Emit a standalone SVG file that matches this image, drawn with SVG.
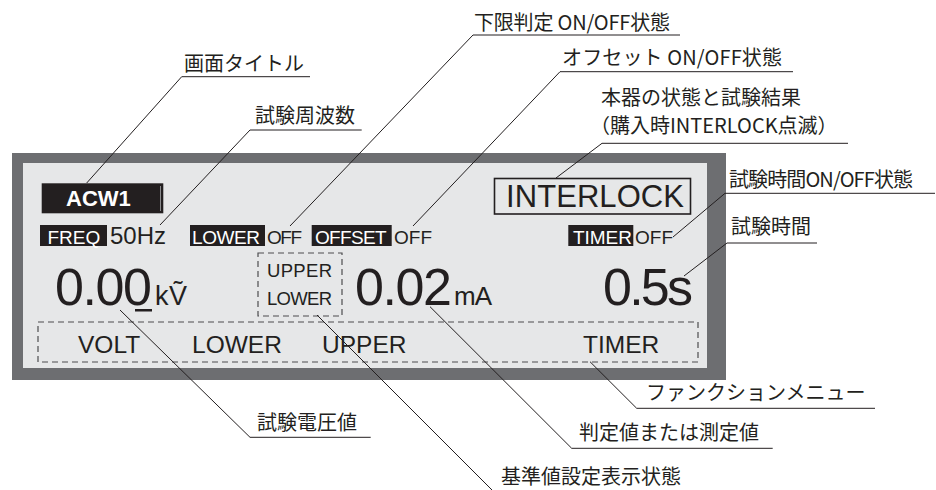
<svg xmlns="http://www.w3.org/2000/svg" width="936" height="490" viewBox="0 0 936 490">
<style>
.frame{fill:#6d6e71}
.panel{fill:#e6e7e8}
.inv{fill:#231f20}
.lcd{font-family:"Liberation Sans",Arial,"DejaVu Sans",sans-serif;fill:#231f20}
.invt{font-family:"Liberation Sans",Arial,sans-serif;fill:#ffffff;font-size:19px}
.sm{font-size:19px}
.big{font-size:52px}
.menu{font-size:24.5px}
.dash{fill:none;stroke:#4d4d4f;stroke-width:1.2;stroke-dasharray:6 4}
.lead{fill:none;stroke:#231f20;stroke-width:1}
.lbl{font-family:"Noto Sans CJK JP","Liberation Sans",sans-serif;font-size:20px;fill:#231f20}
</style>
<rect width="936" height="490" fill="#ffffff"/>
<g id="display">
<rect class="frame" x="12" y="153" width="714" height="227"/>
<rect class="panel" x="23" y="163" width="684" height="205"/>
</g>
<g id="title">
<rect class="inv" x="41.7" y="183.3" width="121.6" height="30"/>
<line x1="160.5" y1="186" x2="160.5" y2="211" stroke="#8a8a8c" stroke-width="1"/>
<text x="66" y="205.5" font-family="Liberation Sans,Arial,sans-serif" font-weight="bold" font-size="22" fill="#ffffff">ACW1</text>
</g>
<g id="freq">
<rect class="inv" x="40" y="225" width="67" height="21"/>
<text class="invt" x="47.5" y="243.5">FREQ</text>
<text class="lcd" x="110" y="243.5" font-size="24">50Hz</text>
</g>
<g id="lower-judge">
<rect class="inv" x="190" y="225" width="75" height="21"/>
<text class="invt" x="192" y="243.5" textLength="68">LOWER</text>
<text class="lcd sm" x="267" y="243.5" textLength="35">OFF</text>
</g>
<g id="offset">
<rect class="inv" x="311.7" y="225" width="80" height="21"/>
<text class="invt" x="315" y="243.5" textLength="71.7">OFFSET</text>
<text class="lcd sm" x="394" y="243.5">OFF</text>
</g>
<g id="status">
<rect x="494.5" y="178.5" width="196" height="35.5" fill="none" stroke="#231f20" stroke-width="1.6"/>
<text class="lcd" x="506" y="207.3" font-size="31" textLength="178">INTERLOCK</text>
</g>
<g id="timer-state">
<rect class="inv" x="568.3" y="225" width="65" height="21"/>
<text class="invt" x="573" y="243.5" textLength="59">TIMER</text>
<text class="lcd sm" x="635" y="243.5">OFF</text>
</g>
<g id="voltage">
<text class="lcd big" x="55" y="305" textLength="97">0.00</text>
<rect class="inv" x="135" y="309" width="17" height="2.5"/>
<text class="lcd" x="155" y="305" font-size="27" textLength="32">kṼ</text>
</g>
<g id="ref-state">
<rect class="dash" x="258" y="253" width="84" height="63"/>
<text class="lcd" x="267" y="277" font-size="18.5" textLength="65">UPPER</text>
<text class="lcd" x="267" y="305" font-size="18.5" textLength="65">LOWER</text>
</g>
<g id="current">
<text class="lcd big" x="355" y="305" textLength="97">0.02</text>
<text class="lcd" x="454" y="305" font-size="26" textLength="38">mA</text>
</g>
<g id="time">
<text class="lcd big" x="603" y="305" textLength="90">0.5s</text>
</g>
<g id="menu">
<rect class="dash" x="38" y="322" width="660" height="40"/>
<text class="lcd menu" x="78" y="353">VOLT</text>
<text class="lcd menu" x="192" y="353">LOWER</text>
<text class="lcd menu" x="322" y="353">UPPER</text>
<text class="lcd menu" x="583" y="353">TIMER</text>
</g>
<g id="connectors">
<polyline class="lead" points="86.7,183 181.7,76.7 310,76.7"/>
<polyline class="lead" points="160,225 250,130 361.7,130"/>
<polyline class="lead" points="290,226 473,35 680,35"/>
<polyline class="lead" points="413,226 560,71.7 793,71.7"/>
<polyline class="lead" points="556,178 602,143.3 848,143.3"/>
<polyline class="lead" points="673,237 725,193.3 935,193.3"/>
<polyline class="lead" points="684,276 727,243 817,243"/>
<polyline class="lead" points="120,310 250,437.3 370.7,437.3"/>
<polyline class="lead" points="317,315 492,490"/>
<polyline class="lead" points="430,306.7 571.7,448.3 772.7,448.3"/>
<polyline class="lead" points="590,361.7 636.7,408.3 875,408.3"/>
</g>
<g id="label-title"><text class="lbl" x="184" y="70.5">画面タイトル</text></g>
<g id="label-freq"><text class="lbl" x="255" y="122.5">試験周波数</text></g>
<g id="label-lower"><text class="lbl" x="474" y="30" textLength="196">下限判定 ON/OFF状態</text></g>
<g id="label-offset"><text class="lbl" x="562" y="65" textLength="220">オフセット ON/OFF状態</text></g>
<g id="label-status">
<text class="lbl" x="601" y="105">本器の状態と試験結果</text>
<text class="lbl" x="590" y="133">（購入時INTERLOCK点滅）</text>
</g>
<g id="label-timer-state"><text class="lbl" x="729" y="186.5" textLength="184">試験時間ON/OFF状態</text></g>
<g id="label-time"><text class="lbl" x="731" y="233.5">試験時間</text></g>
<g id="label-voltage"><text class="lbl" x="257" y="430">試験電圧値</text></g>
<g id="label-ref"><text class="lbl" x="501" y="483.5">基準値設定表示状態</text></g>
<g id="label-current"><text class="lbl" x="579" y="440">判定値または測定値</text></g>
<g id="label-menu"><text class="lbl" x="646" y="400">ファンクションメニュー</text></g>
</svg>
